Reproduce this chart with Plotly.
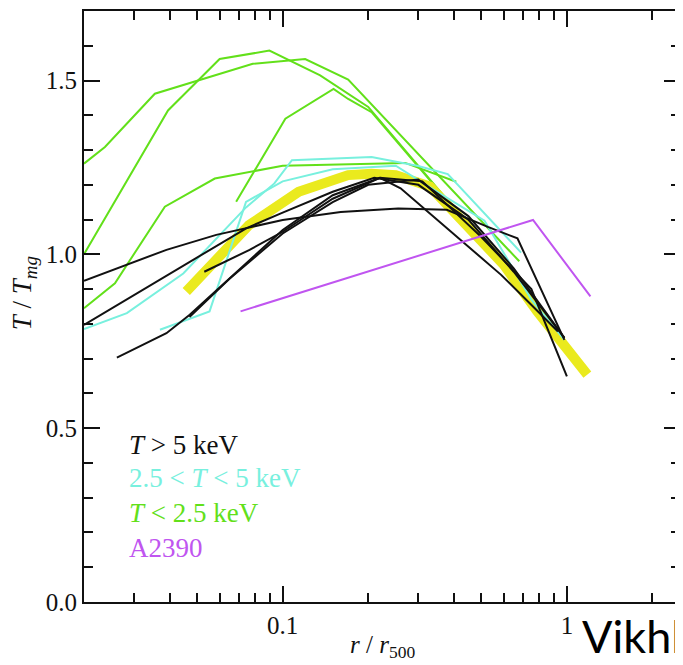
import plotly.graph_objects as go
import math

# ---------------- data ----------------
# T < 2.5 keV (green)
g1_x = [0.02, 0.0237, 0.0355, 0.0785, 0.120, 0.170, 0.68]
g1_y = [1.261, 1.309, 1.462, 1.548, 1.562, 1.503, 0.98]
g2_x = [0.02, 0.0395, 0.060, 0.0898, 0.1355, 0.20, 0.63]
g2_y = [1.00, 1.414, 1.562, 1.586, 1.515, 1.424, 0.945]
g3_x = [0.0686, 0.1022, 0.151, 0.170, 0.2055, 0.60]
g3_y = [1.151, 1.390, 1.476, 1.447, 1.409, 0.965]
g4_x = [0.02, 0.0257, 0.0385, 0.0577, 0.10, 0.27, 0.408]
g4_y = [0.845, 0.917, 1.137, 1.218, 1.255, 1.263, 1.209]

# 2.5 < T < 5 keV (cyan)
c1_x = [0.02, 0.0283, 0.0447, 0.0743, 0.0935, 0.1078, 0.2055, 0.30, 0.381, 0.454, 0.69]
c1_y = [0.785, 0.831, 0.945, 1.135, 1.204, 1.271, 1.280, 1.254, 1.231, 1.164, 1.005]
c2_x = [0.037, 0.0511, 0.0553, 0.0743, 0.10, 0.15, 0.25, 0.334, 0.513, 0.75, 0.98]
c2_y = [0.783, 0.826, 0.836, 1.151, 1.21, 1.245, 1.255, 1.19, 1.097, 0.87, 0.754]

# T > 5 keV (black)
k1_x = [0.02, 0.039, 0.0584, 0.10, 0.16, 0.255, 0.378, 0.527, 0.67, 0.98]
k1_y = [0.924, 1.013, 1.056, 1.099, 1.122, 1.132, 1.128, 1.079, 1.046, 0.754]
k2_x = [0.02, 0.0744, 0.10, 0.15, 0.21, 0.30, 0.45, 0.65, 0.98]
k2_y = [0.797, 1.075, 1.12, 1.18, 1.22, 1.20, 1.10, 0.95, 0.76]
k3_x = [0.0261, 0.039, 0.0471, 0.10, 0.15, 0.22, 0.26, 0.41, 0.587, 0.749, 0.93]
k3_y = [0.703, 0.773, 0.826, 1.07, 1.17, 1.22, 1.19, 1.05, 0.941, 0.855, 0.778]
k4_x = [0.053, 0.0765, 0.10, 0.15, 0.22, 0.31, 0.50, 0.75, 1.0]
k4_y = [0.95, 1.013, 1.065, 1.16, 1.22, 1.21, 1.05, 0.90, 0.649]
k5_x = [0.047, 0.065, 0.10, 0.15, 0.20, 0.30, 0.45, 0.65, 0.98]
k5_y = [0.82, 0.93, 1.06, 1.15, 1.20, 1.215, 1.11, 0.96, 0.76]

# mean profile (thick yellow)
m_x = [0.0458, 0.0507, 0.0761, 0.1138, 0.17, 0.2055, 0.25, 0.33, 0.40, 0.50, 0.60, 0.787, 0.978, 1.18]
m_y = [0.893, 0.931, 1.084, 1.18, 1.228, 1.232, 1.228, 1.195, 1.125, 1.046, 0.97, 0.836, 0.74, 0.654]

# A2390 (purple)
a_x = [0.0711, 0.76, 1.21]
a_y = [0.836, 1.099, 0.879]

x_major = [0.1, 1]
x_major_text = ["0.1", "1"]
x_minor = [0.03, 0.04, 0.05, 0.06, 0.07, 0.08, 0.09,
           0.2, 0.3, 0.4, 0.5, 0.6, 0.7, 0.8, 0.9, 2]
y_major = [0.0, 0.5, 1.0, 1.5]
y_major_text = ["0.0", "0.5", "1.0", "1.5"]

legend_labels = ["<i>T</i> &gt; 5 keV", "2.5 &lt; <i>T</i> &lt; 5 keV",
                 "<i>T</i> &lt; 2.5 keV", "A2390"]

# ---------------- styling ----------------
BLACK = "#111111"
CYAN = "#78f0de"
GREEN = "#62e01a"
YELLOW = "#eaea1e"
PURPLE = "#c055f0"
SERIF = "Liberation Serif"

fig = go.Figure()

def add(x, y, color, width):
    fig.add_trace(go.Scatter(x=x, y=y, mode="lines",
                             line=dict(color=color, width=width),
                             showlegend=False, hoverinfo="skip"))

for x, y in [(g1_x, g1_y), (g2_x, g2_y), (g3_x, g3_y), (g4_x, g4_y)]:
    add(x, y, GREEN, 2)
add(m_x, m_y, YELLOW, 10)
for x, y in [(c1_x, c1_y), (c2_x, c2_y)]:
    add(x, y, CYAN, 2)
for x, y in [(k1_x, k1_y), (k2_x, k2_y), (k3_x, k3_y), (k4_x, k4_y), (k5_x, k5_y)]:
    add(x, y, BLACK, 2)
add(a_x, a_y, PURPLE, 2)

# page has an 8px body margin: size the figure to fit the 683x665 window
OFF = 8
W, H = 683 - OFF, 665 - OFF
L, R, T, B = 76, 1, 1, 63
PW, PH = W - L - R, H - T - B

def px(xpage):
    return (xpage - OFF - L) / PW

def py(ypage):
    return (H - B - (ypage - OFF)) / PH

annotations = []
leg_colors = [BLACK, CYAN, GREEN, PURPLE]
leg_y = [444, 478, 513, 548]
for lab, col, yy in zip(legend_labels, leg_colors, leg_y):
    annotations.append(dict(text=lab, xref="paper", yref="paper",
                            x=px(127), y=py(yy), xanchor="left", yanchor="middle",
                            showarrow=False, font=dict(family=SERIF, size=27, color=col)))

annotations.append(dict(text="<i>r</i> / <i>r</i><sub>500</sub>",
                        xref="paper", yref="paper", x=px(383), y=py(647),
                        xanchor="center", yanchor="middle", showarrow=False,
                        font=dict(family=SERIF, size=25, color=BLACK)))
annotations.append(dict(text="<i>T</i> / <i>T<sub>mg</sub></i>",
                        xref="paper", yref="paper", x=px(24), y=py(292),
                        xanchor="center", yanchor="middle", textangle=-90,
                        showarrow=False, font=dict(family=SERIF, size=27, color=BLACK)))
annotations.append(dict(text="Vikhlinin", xref="paper", yref="paper",
                        x=px(582), y=py(636), xanchor="left", yanchor="middle",
                        showarrow=False, font=dict(family="Lato", size=45, color="#000000")))

fig.update_layout(
    width=W, height=H,
    margin=dict(l=L, r=R, t=T, b=B),
    paper_bgcolor="white", plot_bgcolor="white",
    annotations=annotations,
    showlegend=False,
)
fig.update_xaxes(
    type="log", range=[math.log10(0.02), math.log10(2.5)],
    tickmode="array", tickvals=x_major, ticktext=x_major_text,
    ticks="inside", ticklen=16, tickwidth=1.5, tickcolor=BLACK,
    showline=True, linewidth=2, linecolor=BLACK, mirror="ticks",
    showgrid=False, zeroline=False,
    tickfont=dict(family=SERIF, size=25, color=BLACK),
    minor=dict(tickmode="array", tickvals=x_minor, ticks="inside",
               ticklen=9, tickwidth=1.5, tickcolor=BLACK, showgrid=False),
)
fig.update_yaxes(
    range=[0, 1.7],
    tickmode="array", tickvals=y_major, ticktext=y_major_text,
    ticks="inside", ticklen=16, tickwidth=1.5, tickcolor=BLACK,
    showline=True, linewidth=2, linecolor=BLACK, mirror="ticks",
    showgrid=False, zeroline=False,
    tickfont=dict(family=SERIF, size=25, color=BLACK),
    minor=dict(tick0=0, dtick=0.1, ticks="inside",
               ticklen=9, tickwidth=1.5, tickcolor=BLACK, showgrid=False),
)

fig.write_html("out.html")
